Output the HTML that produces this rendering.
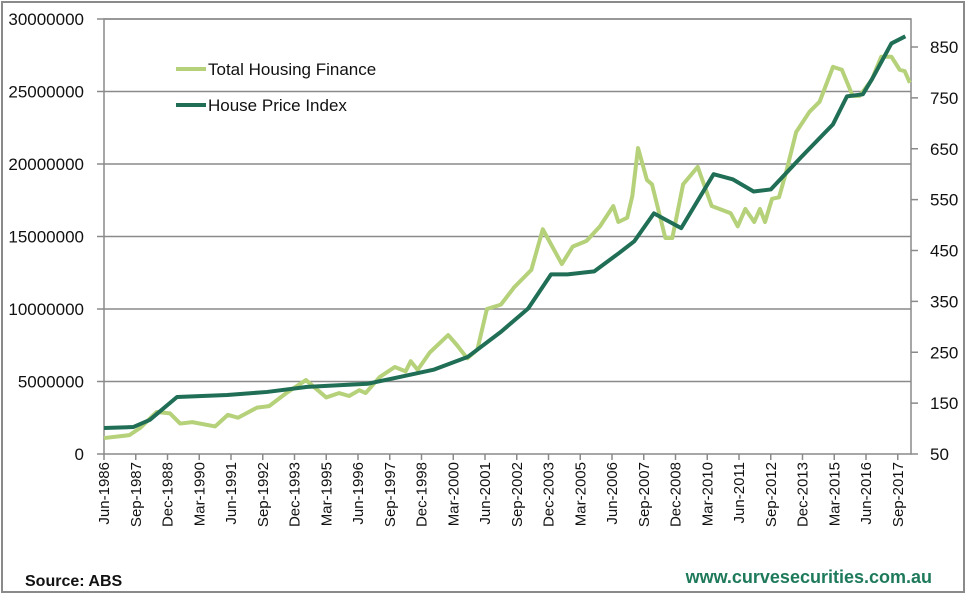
<!DOCTYPE html>
<html><head><meta charset="utf-8"><style>
body{margin:0;background:#fff;}
svg{display:block;font-family:"Liberation Sans",sans-serif;}
</style></head><body>
<svg id="chart" width="970" height="603">
<rect x="2" y="2" width="962" height="590" fill="#fff" stroke="#8a8a8a" stroke-width="2"/>
<g id="grid"></g>
<g id="axes"></g>
<g id="series"></g>
<g>
<line x1="176" y1="69" x2="206" y2="69" stroke="#b5d17a" stroke-width="4"/>
<text x="208" y="75" font-size="17" fill="#111">Total Housing Finance</text>
<line x1="176" y1="105" x2="206" y2="105" stroke="#1f6e55" stroke-width="4"/>
<text x="208" y="111" font-size="17" fill="#111">House Price Index</text>
</g>
<text x="25" y="586" font-size="16" font-weight="bold" fill="#111">Source: ABS</text>
<text x="932" y="583" font-size="18" font-weight="bold" fill="#1e7a5a" text-anchor="end">www.curvesecurities.com.au</text>
</svg>
<script>
const xLabels=["Jun-1986","Sep-1987","Dec-1988","Mar-1990","Jun-1991","Sep-1992","Dec-1993","Mar-1995","Jun-1996","Sep-1997","Dec-1998","Mar-2000","Jun-2001","Sep-2002","Dec-2003","Mar-2005","Jun-2006","Sep-2007","Dec-2008","Mar-2010","Jun-2011","Sep-2012","Dec-2013","Mar-2015","Jun-2016","Sep-2017"];
const leftTicks=[0,5000000,10000000,15000000,20000000,25000000,30000000];
const rightTicks=[50,150,250,350,450,550,650,750,850];
// quarters since Jun-1986
const thfQ=[0,4,5.7,8.3,10.4,12,13.9,17.5,19.5,21.1,24.1,26,28.7,31.8,35,37,38.6,40.2,41.2,43.4,45.8,47.5,48.3,49.4,51.3,54.2,55.6,57.2,58.8,60.3,62.5,64.6,67.3,69.1,72.1,73.8,76,78.1,80.2,81,82.4,83.2,84.1,85.5,86.3,88.4,89.5,91.2,93.5,95.7,98.7,99.8,101,102.4,103.3,104.1,105.2,106.3,107.4,109,111.1,112.7,114.8,116.2,117.9,119,120.9,122.4,124,125.3,126.1,126.9];
const thfV=[1.1,1.3,1.8,2.9,2.8,2.1,2.2,1.9,2.7,2.5,3.2,3.3,4.2,5.1,3.9,4.2,4.0,4.4,4.2,5.3,6.0,5.7,6.4,5.8,7.0,8.2,7.5,6.6,7.2,10.0,10.3,11.5,12.7,15.5,13.1,14.3,14.7,15.7,17.1,16.0,16.3,17.8,21.1,18.9,18.6,14.9,14.9,18.6,19.8,17.1,16.6,15.7,16.9,16.0,16.9,16.0,17.6,17.7,19.4,22.2,23.6,24.3,26.7,26.5,24.7,24.7,25.8,27.4,27.4,26.5,26.4,25.6];
const hpiQ=[0,4.6,7.2,11.5,19.4,25.7,32,41.5,46.8,52,57.3,62.5,66.8,70.4,73,77.2,81,83.5,86.6,90.9,96,99,102.3,105,109.6,114.8,117,119.5,121,124,126.2];
const hpiV=[101,103,117,162,166,172,182,188,202,216,241,290,336,403,403,409,444,468,523,494,600,590,566,570,631,698,753,757,788,857,871];

const L=104,R=911,T=19,B=454;
const xs=q=>L+q*6.35;
const yL=v=>B-(v/30000000)*(B-T);
const yR=v=>B-(v-50)*(407/800);
const NS="http://www.w3.org/2000/svg";
function mk(tag,attrs,parent){const e=document.createElementNS(NS,tag);for(const k in attrs)e.setAttribute(k,attrs[k]);parent.appendChild(e);return e;}
const grid=document.getElementById('grid'),axes=document.getElementById('axes'),series=document.getElementById('series');
leftTicks.forEach(v=>{
  const y=yL(v);
  if(v>0){const g=mk('line',{x1:L,x2:R,y1:y,y2:y,stroke:'#8a8a8a','stroke-width':1.5},grid);
  
  }
  mk('line',{x1:97,x2:L,y1:y,y2:y,stroke:'#8a8a8a','stroke-width':1.5},axes);
  const t=mk('text',{x:84,y:y+6,'font-size':17,'text-anchor':'end',fill:'#111'},axes);
  t.textContent=String(v);
  
  
});
rightTicks.forEach(v=>{
  const y=yR(v);
  mk('line',{x1:R,x2:R+7,y1:y,y2:y,stroke:'#8a8a8a','stroke-width':1.5},axes);
  const t=mk('text',{x:930,y:y+6,'font-size':17,fill:'#111'},axes);
  t.textContent=String(v);
  
  
});
const frame=mk('path',{d:`M${L},${T}H${R}V${B}H${L}Z`,fill:'none',stroke:'#8a8a8a','stroke-width':1.5},axes);


xLabels.forEach((lab,i)=>{
  const x=xs(i*5);
  mk('line',{x1:x,x2:x,y1:B,y2:B+6,stroke:'#8a8a8a','stroke-width':1.5},axes);
  const t=mk('text',{x:0,y:0,'font-size':15,'text-anchor':'end',fill:'#111',transform:`translate(${x+5},${B+8}) rotate(-90)`},axes);
  t.textContent=lab;
  
  
});
const p1=mk('polyline',{points:thfQ.map((q,i)=>xs(q)+','+yL(thfV[i]*1e6)).join(' '),fill:'none',stroke:'#b5d17a','stroke-width':4,'stroke-linejoin':'round'},series);


const p2=mk('polyline',{points:hpiQ.map((q,i)=>xs(q)+','+yR(hpiV[i])).join(' '),fill:'none',stroke:'#1f6e55','stroke-width':4,'stroke-linejoin':'round'},series);


</script>
</body></html>
